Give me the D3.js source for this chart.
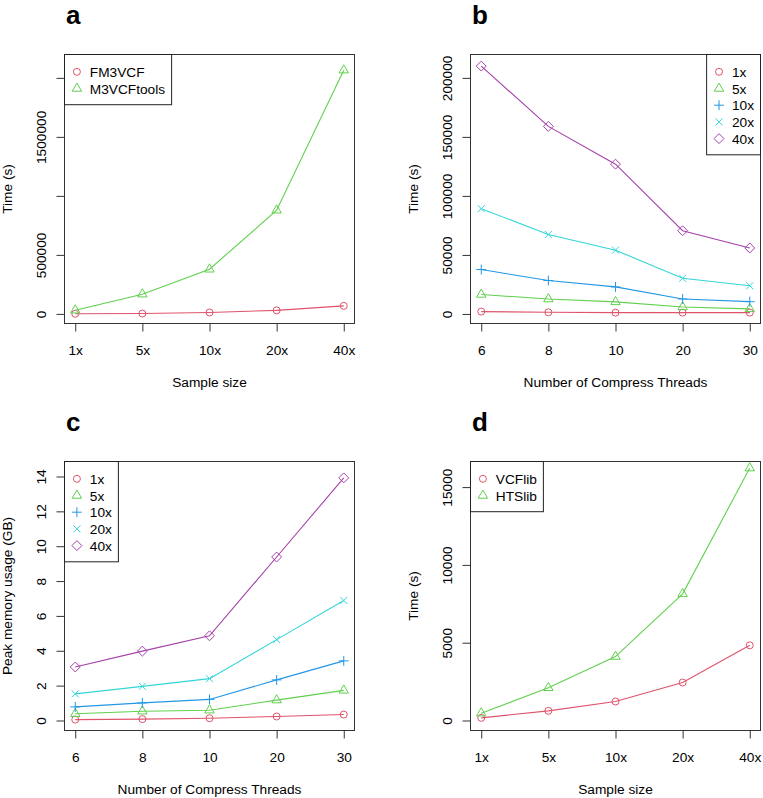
<!DOCTYPE html>
<html>
<head>
<meta charset="utf-8">
<script src="https://cdn.jsdelivr.net/npm/d3@7"></script>
<style>
  body { margin: 0; background: #fff; }
  svg { display: block; }
  text { font-family: 'Liberation Sans', Arial, Helvetica, sans-serif; fill: #000; }
</style>
</head>
<body>
<div id="chart"></div>
<script>
// categories
const SAMPLE_SIZES = ['1x', '5x', '10x', '20x', '40x'];
const THREADS = ['6', '8', '10', '20', '30'];

// panel a: FM3VCF vs M3VCFtools, time (s) by sample size
const A_NAMES = ['FM3VCF', 'M3VCFtools'];
const A_FM3VCF = [1000, 3000, 12000, 30000, 68000];
const A_M3VCFTOOLS = [31000, 167000, 378000, 878000, 2065000];
const A_TICKS = [0, 500000, 1000000, 1500000, 2000000];
const A_TICK_LABELS = ['0', '500000', '', '1500000', ''];

// panel b: time (s) by compress threads, one series per sample size
const B_1X = [2000, 1400, 1100, 1100, 1100];
const B_5X = [16500, 12600, 10200, 5900, 4300];
const B_10X = [37600, 28300, 22900, 12700, 10400];
const B_20X = [89200, 67300, 54000, 30200, 23900];
const B_40X = [210000, 158900, 126900, 70500, 55900];
const B_TICKS = [0, 50000, 100000, 150000, 200000];

// panel c: peak memory (GB) by compress threads
const C_1X = [0.05, 0.08, 0.13, 0.23, 0.34];
const C_5X = [0.39, 0.53, 0.59, 1.17, 1.73];
const C_10X = [0.78, 1.01, 1.21, 2.33, 3.42];
const C_20X = [1.53, 1.96, 2.40, 4.64, 6.89];
const C_40X = [3.07, 3.98, 4.86, 9.38, 13.92];
const C_TICKS = [0, 2, 4, 6, 8, 10, 12, 14];

// panel d: VCFlib vs HTSlib, time (s) by sample size
const D_NAMES = ['VCFlib', 'HTSlib'];
const D_VCFLIB = [170, 620, 1220, 2440, 4830];
const D_HTSLIB = [470, 2100, 4110, 8140, 16220];
const D_TICKS = [0, 5000, 10000, 15000];

// close to R 4.x palette colours 2..6, toned to the print
const COLORS = ['#DF536B', '#61D04F', '#2297E6', '#33D6D8', '#A542AA'];
const FONT = 13.7;
const PCH = 3.5; // symbol size unit

const W = 763, H = 798;
const svg = d3.select('#chart').append('svg').attr('width', W).attr('height', H);

// R style open symbols: circle, triangle, plus, cross, diamond
function drawSymbol(g, kind, x, y, color) {
  const s = PCH;
  if (kind === 0) {
    g.append('circle').attr('cx', x).attr('cy', y).attr('r', s)
      .attr('fill', 'none').attr('stroke', color);
  } else if (kind === 1) {
    const pts = [[x, y - 1.555 * s], [x + 1.347 * s, y + 0.778 * s], [x - 1.347 * s, y + 0.778 * s]];
    g.append('path').attr('d', d3.line()(pts) + 'Z').attr('fill', 'none').attr('stroke', color);
  } else if (kind === 2) {
    const r = 1.414 * s;
    g.append('path').attr('d', `M${x - r},${y}H${x + r}M${x},${y - r}V${y + r}`)
      .attr('fill', 'none').attr('stroke', color);
  } else if (kind === 3) {
    g.append('path').attr('d', `M${x - s},${y - s}L${x + s},${y + s}M${x - s},${y + s}L${x + s},${y - s}`)
      .attr('fill', 'none').attr('stroke', color);
  } else {
    const r = 1.414 * s;
    g.append('path').attr('d', `M${x},${y - r}L${x + r},${y}L${x},${y + r}L${x - r},${y}Z`)
      .attr('fill', 'none').attr('stroke', color);
  }
}

function panel(cfg) {
  const { box } = cfg;
  const g = svg.append('g');

  // R pads the x range by 4% on each side
  const x = d3.scalePoint().domain(cfg.cats).range([box.left, box.right]).padding(0.16);
  const y = d3.scaleLinear().domain(cfg.yDomain).range([box.bottom, box.top]);

  // series
  const line = d3.line().x((d, i) => x(cfg.cats[i])).y(d => y(d));
  cfg.series.forEach((s, k) => {
    g.append('path').datum(s.values).attr('d', line)
      .attr('fill', 'none').attr('stroke', COLORS[k]).attr('stroke-width', 1.1);
    s.values.forEach((v, i) => drawSymbol(g, k, x(cfg.cats[i]), y(v), COLORS[k]));
  });

  // axes
  const xa = g.append('g').attr('transform', `translate(0,${box.bottom})`)
    .call(d3.axisBottom(x).tickSize(8));
  xa.select('.domain').remove();
  xa.selectAll('line').attr('stroke', '#333');
  xa.selectAll('text').attr('y', 31).attr('dy', 0).style('font-size', FONT + 'px');

  const ya = g.append('g').attr('transform', `translate(${box.left},0)`)
    .call(d3.axisLeft(y).tickValues(cfg.yTicks).tickSize(8)
      .tickFormat((d, i) => cfg.yLabels ? cfg.yLabels[i] : String(d)));
  ya.select('.domain').remove();
  ya.selectAll('line').attr('stroke', '#333');
  ya.selectAll('text').attr('x', 0).attr('y', -19).attr('dy', 0)
    .attr('transform', 'rotate(-90)').attr('text-anchor', 'middle')
    .style('font-size', FONT + 'px');

  // plot frame
  g.append('rect').attr('x', box.left).attr('y', box.top)
    .attr('width', box.right - box.left).attr('height', box.bottom - box.top)
    .attr('fill', 'none').attr('stroke', '#333').attr('stroke-width', 1);

  // titles
  g.append('text').attr('x', (box.left + box.right) / 2).attr('y', box.bottom + 63)
    .attr('text-anchor', 'middle').style('font-size', FONT + 'px').text(cfg.xTitle);
  const cy = (box.top + box.bottom) / 2;
  g.append('text').attr('transform', `translate(${box.left - 53},${cy}) rotate(-90)`)
    .attr('text-anchor', 'middle').style('font-size', FONT + 'px').text(cfg.yTitle);
  g.append('text').attr('x', box.left + 1.5).attr('y', box.top - 31)
    .style('font-size', '26px').style('font-weight', 'bold').text(cfg.label);

  // legend
  const lg = g.append('g');
  const rowH = 16.7;
  const texts = cfg.series.map((s, k) => lg.append('text').attr('x', 0).attr('y', 0)
    .style('font-size', FONT + 'px').text(s.name));
  const tw = d3.max(texts, t => t.node().getComputedTextLength());
  const lw = 25.3 + tw + 6.5;
  const lh = 17 + rowH * (cfg.series.length - 1) + 16.5;
  const lx = cfg.legendRight ? box.right - lw : box.left;
  const ly = box.top;
  lg.insert('rect', ':first-child').attr('x', lx).attr('y', ly).attr('width', lw).attr('height', lh)
    .attr('fill', '#fff').attr('stroke', '#222').attr('stroke-width', 1);
  cfg.series.forEach((s, k) => {
    const ry = ly + 17.3 + k * rowH;
    drawSymbol(lg, k, lx + 12.4, ry, COLORS[k]);
    texts[k].attr('x', lx + 25.3).attr('y', ry + 5);
  });
}

panel({
  label: 'a', cats: SAMPLE_SIZES,
  box: { left: 64.5, right: 354.5, top: 54.5, bottom: 323.5 },
  yDomain: [-81400, 2198000], yTicks: A_TICKS, yLabels: A_TICK_LABELS,
  xTitle: 'Sample size', yTitle: 'Time (s)',
  series: [{ name: A_NAMES[0], values: A_FM3VCF }, { name: A_NAMES[1], values: A_M3VCFTOOLS }]
});

panel({
  label: 'b', cats: THREADS, legendRight: true,
  box: { left: 470.5, right: 760.5, top: 54.5, bottom: 323.5 },
  yDomain: [-8100, 219800], yTicks: B_TICKS,
  xTitle: 'Number of Compress Threads', yTitle: 'Time (s)',
  series: [
    { name: SAMPLE_SIZES[0], values: B_1X }, { name: SAMPLE_SIZES[1], values: B_5X },
    { name: SAMPLE_SIZES[2], values: B_10X }, { name: SAMPLE_SIZES[3], values: B_20X },
    { name: SAMPLE_SIZES[4], values: B_40X }
  ]
});

panel({
  label: 'c', cats: THREADS,
  box: { left: 64.5, right: 354.5, top: 461.5, bottom: 730.5 },
  yDomain: [-0.574, 14.86], yTicks: C_TICKS,
  xTitle: 'Number of Compress Threads', yTitle: 'Peak memory usage (GB)',
  series: [
    { name: SAMPLE_SIZES[0], values: C_1X }, { name: SAMPLE_SIZES[1], values: C_5X },
    { name: SAMPLE_SIZES[2], values: C_10X }, { name: SAMPLE_SIZES[3], values: C_20X },
    { name: SAMPLE_SIZES[4], values: C_40X }
  ]
});

panel({
  label: 'd', cats: SAMPLE_SIZES,
  box: { left: 470.5, right: 760.5, top: 461.5, bottom: 730.5 },
  yDomain: [-643, 16645], yTicks: D_TICKS,
  xTitle: 'Sample size', yTitle: 'Time (s)',
  series: [{ name: D_NAMES[0], values: D_VCFLIB }, { name: D_NAMES[1], values: D_HTSLIB }]
});
</script>
</body>
</html>
